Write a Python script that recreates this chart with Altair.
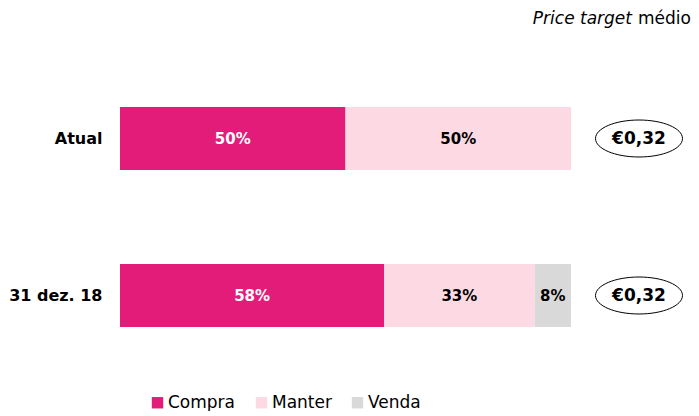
import altair as alt
import pandas as pd

# ---- data ----
periods = ["Atual", "Atual", "31 dez. 18", "31 dez. 18", "31 dez. 18"]
ratings = ["Compra", "Manter", "Compra", "Manter", "Venda"]
shares = [50, 50, 58, 33, 8]
rating_order = ["Compra", "Manter", "Venda"]
rating_colors = ["#E31C79", "#FDD9E3", "#D9D9D9"]
period_order = ["Atual", "31 dez. 18"]
price_targets = ["€0,32", "€0,32"]
title_italic = "Price target"
title_regular = "médio"

FONT = "DejaVu Sans"

df = pd.DataFrame({"period": periods, "rating": ratings, "share": shares})
df["rank"] = df["rating"].map({r: i for i, r in enumerate(rating_order)})
df["label"] = df["share"].astype(str) + "%"

pt = pd.DataFrame({"period": period_order, "target": price_targets})

yscale = alt.Scale(domain=period_order, paddingInner=0.6, paddingOuter=0.3)
y_axis = alt.Y(
    "period:N", scale=yscale, sort=period_order,
    axis=alt.Axis(title=None, domain=False, ticks=False, labelFontSize=16,
                  labelFontWeight="bold", labelColor="black", labelFont=FONT,
                  labelPadding=18),
)
y_noaxis = alt.Y("period:N", scale=yscale, sort=period_order, axis=None)
xscale = alt.Scale(domain=[0, 1], nice=False, zero=False)

base = alt.Chart(df).transform_stack(
    stack="share", groupby=["period"], sort=[alt.SortField("rank")],
    as_=["x0", "x1"], offset="normalize",
).transform_calculate(xm="(datum.x0 + datum.x1) / 2")

bars = base.mark_bar().encode(
    x=alt.X("x0:Q", scale=xscale, axis=None),
    x2="x1:Q",
    y=y_axis,
    color=alt.Color(
        "rating:N",
        scale=alt.Scale(domain=rating_order, range=rating_colors),
        legend=alt.Legend(
            orient="none", legendX=29, legendY=334, direction="horizontal",
            title=None, symbolType="square", symbolSize=130,
            symbolStrokeWidth=0, labelFontSize=17, labelFont=FONT,
            labelColor="black", columnPadding=17, labelOffset=2, padding=0,
        ),
    ),
)

texts = base.mark_text(font=FONT, fontSize=15, fontWeight="bold").encode(
    x=alt.X("xm:Q", scale=xscale, axis=None),
    y=y_axis,
    text="label:N",
    color=alt.condition(alt.datum.rating == "Compra", alt.value("white"), alt.value("black")),
)

left = (bars + texts).properties(width=451, height=314)

ellipse_path = (
    "M -1 0 C -1 -0.2347 -0.5523 -0.425 0 -0.425 "
    "C 0.5523 -0.425 1 -0.2347 1 0 "
    "C 1 0.2347 0.5523 0.425 0 0.425 "
    "C -0.5523 0.425 -1 0.2347 -1 0 Z"
)
ell = alt.Chart(pt).mark_point(
    shape=ellipse_path, size=87 * 87, filled=False, color="black",
    strokeWidth=1, opacity=1,
).encode(y=y_noaxis)
ell_text = alt.Chart(pt).mark_text(
    font=FONT, fontSize=17, fontWeight="bold", color="black"
).encode(y=y_noaxis, text="target:N")

t1 = alt.Chart(pd.DataFrame({"t": [title_italic]})).mark_text(
    font=FONT, fontSize=17, fontStyle="italic", align="right",
    baseline="top", color="black",
).encode(text="t:N", x=alt.value(43), y=alt.value(-49))
t2 = alt.Chart(pd.DataFrame({"t": [title_regular]})).mark_text(
    font=FONT, fontSize=17, align="right", baseline="top", color="black",
).encode(text="t:N", x=alt.value(102), y=alt.value(-49))

right = (ell + ell_text + t1 + t2).properties(width=100, height=314)

chart = alt.hconcat(left, right, spacing=18, bounds="flush").configure(
    padding={"top": 2, "left": 0, "right": 0, "bottom": 0}
).configure_view(stroke=None)

chart.save("out.html", embed_options={"renderer": "svg", "actions": False})
